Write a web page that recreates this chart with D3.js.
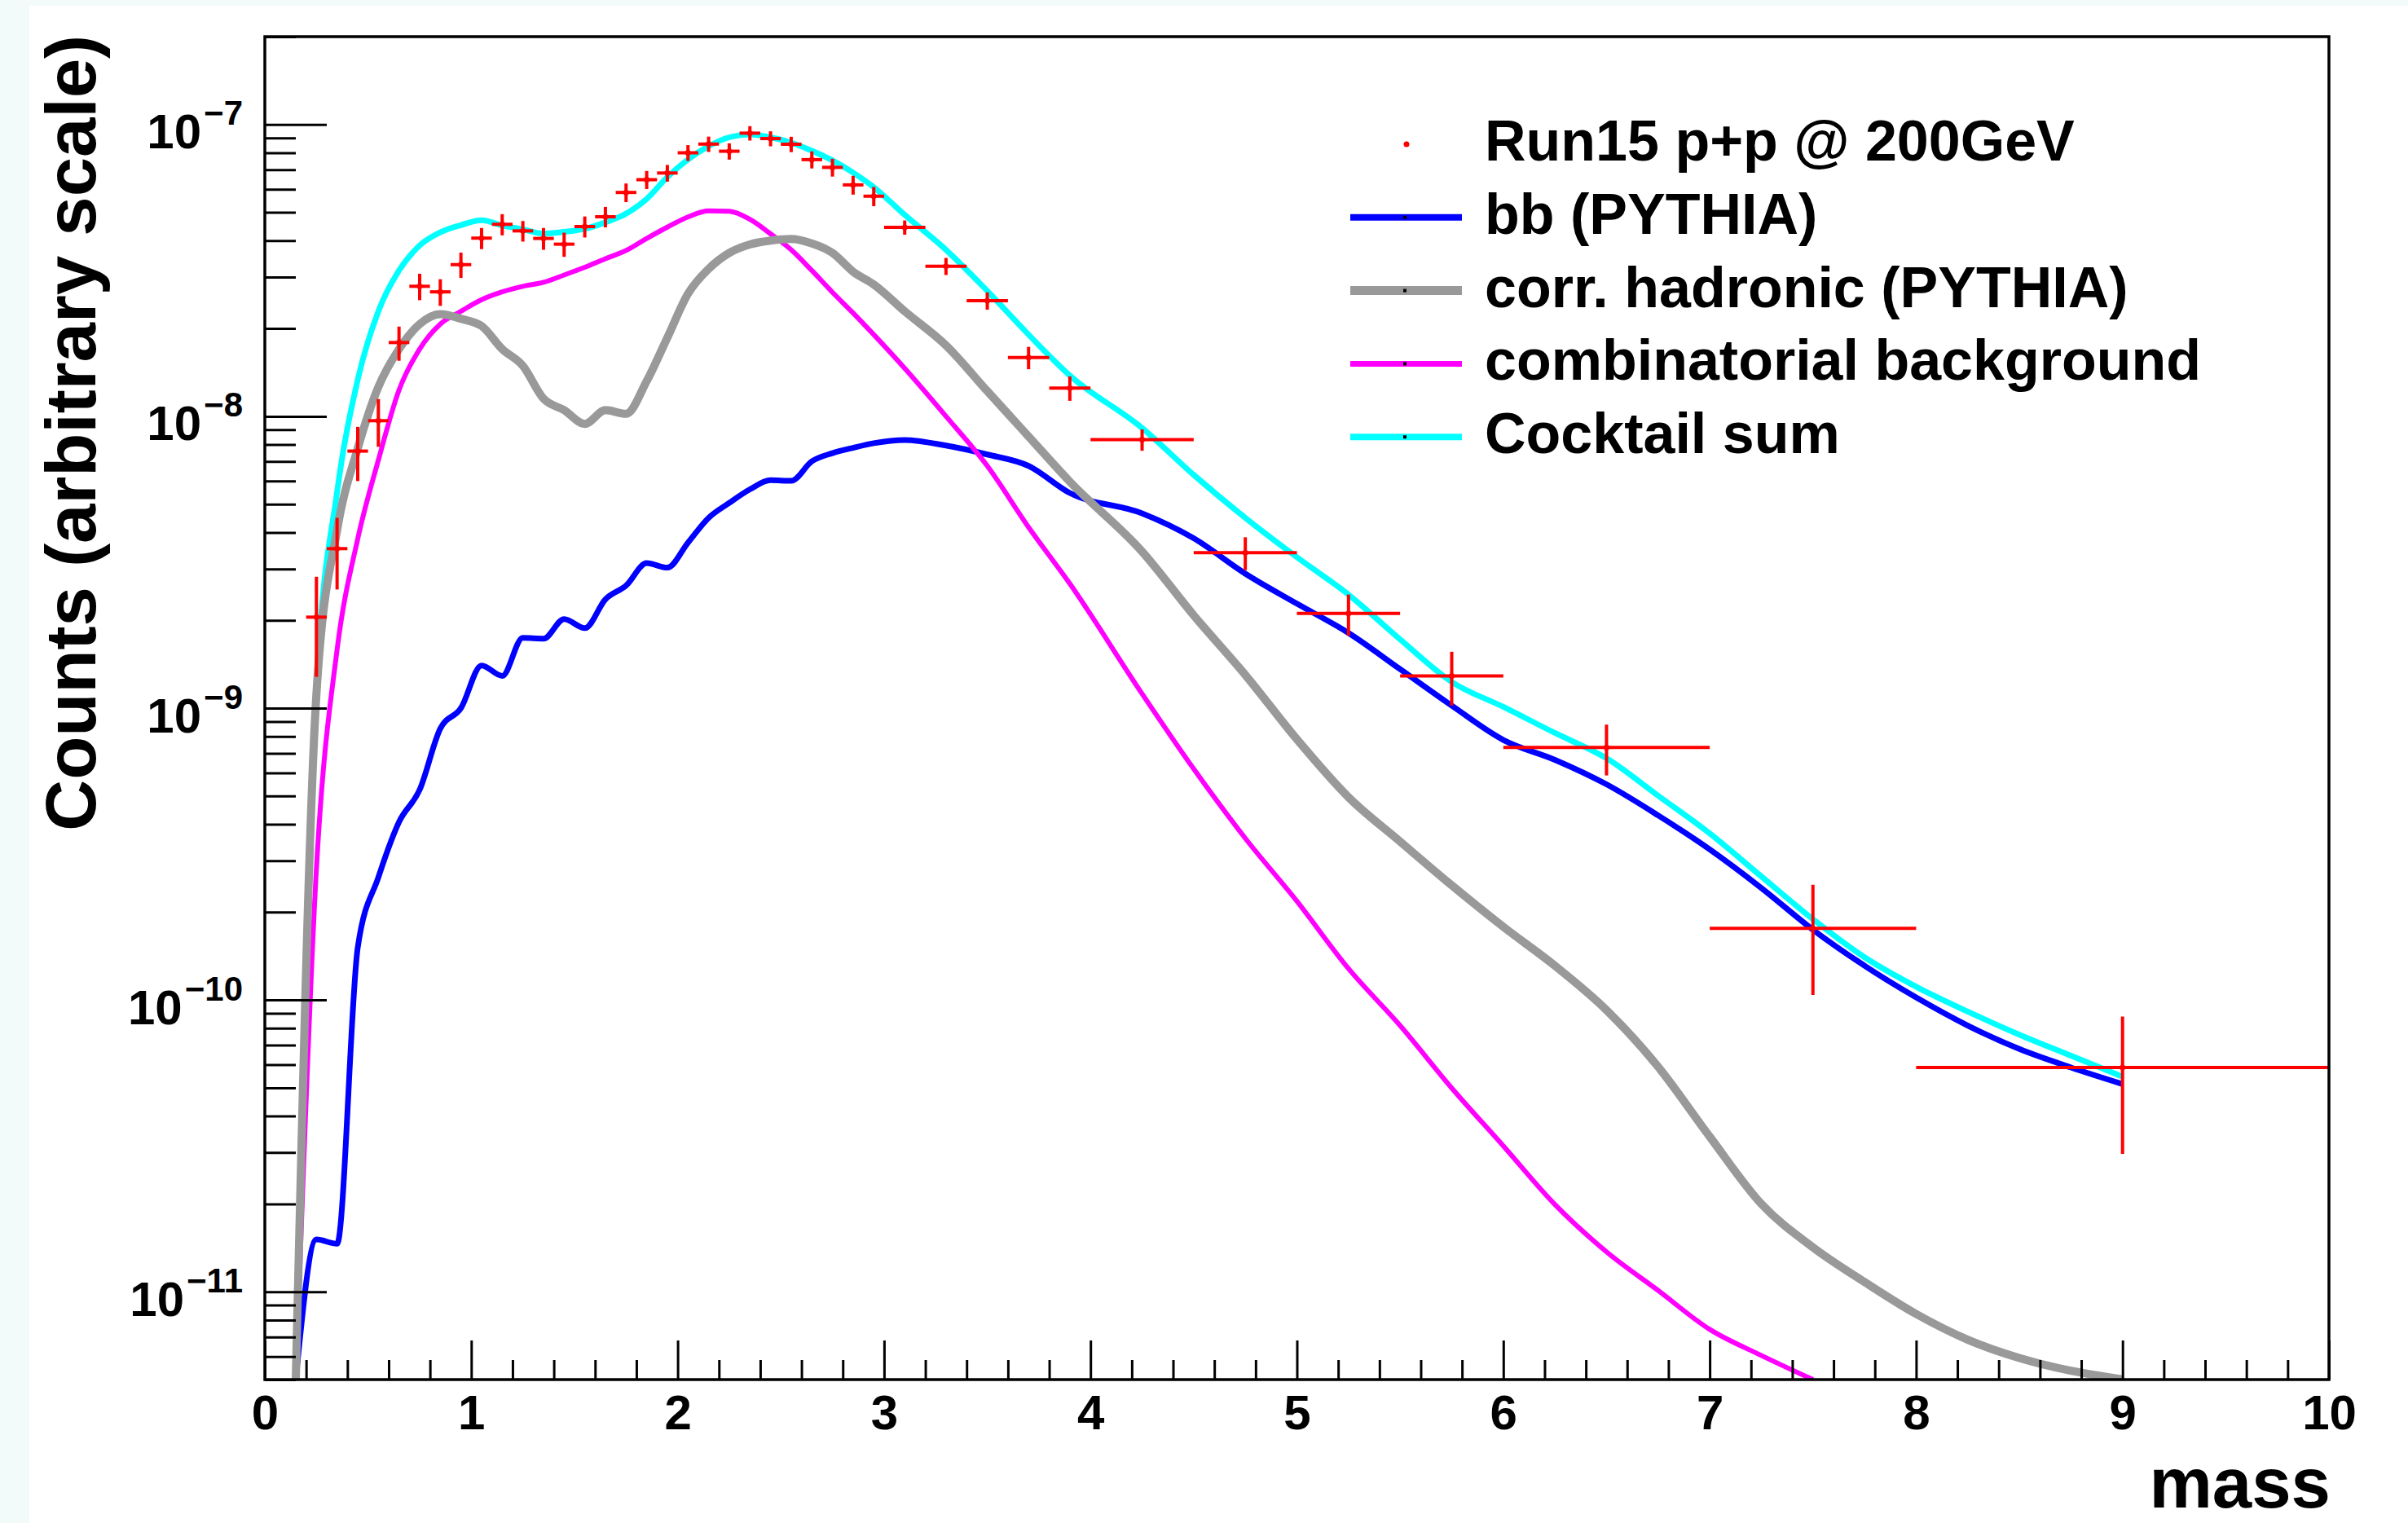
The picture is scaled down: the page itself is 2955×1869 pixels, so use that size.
<!DOCTYPE html>
<html>
<head>
<meta charset="utf-8">
<script src="https://cdn.jsdelivr.net/npm/d3@7"></script>
<style>
html, body { margin: 0; padding: 0; background: #f3fafa; overflow: hidden; }
svg { display: block; }
</style>
</head>
<body>
<svg id="chart" width="2955" height="1869"></svg>
<script>
// ---------------- data ----------------
const dataMass = [0.25, 0.35, 0.45, 0.55, 0.65, 0.75, 0.85, 0.95, 1.05, 1.15, 1.25, 1.35, 1.45, 1.55,
  1.65, 1.75, 1.85, 1.95, 2.05, 2.15, 2.25, 2.35, 2.45, 2.55, 2.65, 2.75, 2.85, 2.95,
  3.1, 3.3, 3.5, 3.7, 3.9, 4.25, 4.75, 5.25, 5.75, 6.5, 7.5, 9.0];
const dataHalfWidth = [0.05, 0.05, 0.05, 0.05, 0.05, 0.05, 0.05, 0.05, 0.05, 0.05, 0.05, 0.05, 0.05, 0.05,
  0.05, 0.05, 0.05, 0.05, 0.05, 0.05, 0.05, 0.05, 0.05, 0.05, 0.05, 0.05, 0.05, 0.05,
  0.1, 0.1, 0.1, 0.1, 0.1, 0.25, 0.25, 0.25, 0.25, 0.5, 0.5, 1.0];
const dataCounts = [2.05e-9, 3.52e-9, 7.6e-9, 9.66e-9, 1.79e-8, 2.79e-8, 2.67e-8, 3.31e-8, 4.08e-8, 4.55e-8,
  4.32e-8, 4.07e-8, 3.89e-8, 4.47e-8, 4.83e-8, 5.85e-8, 6.47e-8, 6.82e-8, 8.0e-8, 8.57e-8,
  8.1e-8, 9.34e-8, 8.95e-8, 8.56e-8, 7.58e-8, 7.13e-8, 6.21e-8, 5.68e-8,
  4.44e-8, 3.27e-8, 2.49e-8, 1.59e-8, 1.25e-8, 8.32e-9, 3.41e-9, 2.11e-9, 1.29e-9, 7.33e-10, 1.76e-10, 5.87e-11];
const dataError = [0.77e-9, 0.97e-9, 1.6e-9, 1.8e-9, 2.4e-9, 2.9e-9, 2.8e-9, 3.3e-9, 3.4e-9, 3.8e-9,
  3.5e-9, 3.5e-9, 3.7e-9, 3.7e-9, 3.9e-9, 4.3e-9, 4.6e-9, 4.5e-9, 5.0e-9, 5.2e-9,
  5.2e-9, 5.3e-9, 5.3e-9, 5.2e-9, 5.1e-9, 5.0e-9, 4.6e-9, 4.3e-9,
  2.5e-9, 2.2e-9, 1.7e-9, 1.4e-9, 1.2e-9, 0.7e-9, 0.44e-9, 0.34e-9, 0.27e-9, 1.45e-10, 0.72e-10, 2.9e-11];

const curveMass = [0.15, 0.25, 0.35, 0.45, 0.55, 0.65, 0.75, 0.85, 0.95, 1.05, 1.15, 1.25, 1.35, 1.45, 1.55,
  1.65, 1.75, 1.85, 1.95, 2.05, 2.15, 2.25, 2.35, 2.45, 2.55, 2.65, 2.75, 2.85, 2.95,
  3.1, 3.3, 3.5, 3.7, 3.9, 4.25, 4.5, 4.75, 5.0, 5.25, 5.5, 5.75, 6.0, 6.25, 6.5, 6.75,
  7.0, 7.25, 7.5, 7.75, 8.0, 8.25, 8.5, 8.75, 9.0];
const bbPythia = [5.0e-12, 1.51e-11, 1.46e-11, 1.51e-10, 2.63e-10, 4.07e-10, 5.25e-10, 8.51e-10, 1.0e-9, 1.40e-9,
  1.29e-9, 1.74e-9, 1.73e-9, 2.02e-9, 1.88e-9, 2.36e-9, 2.63e-9, 3.14e-9, 3.03e-9, 3.69e-9,
  4.49e-9, 5.05e-9, 5.62e-9, 6.04e-9, 6.01e-9, 7.01e-9, 7.48e-9, 7.80e-9, 8.09e-9,
  8.30e-9, 7.94e-9, 7.40e-9, 6.76e-9, 5.46e-9,
  4.65e-9, 3.82e-9, 2.89e-9, 2.28e-9, 1.81e-9, 1.36e-9, 1.02e-9, 7.78e-10, 6.65e-10, 5.48e-10,
  4.29e-10, 3.28e-10, 2.42e-10, 1.74e-10, 1.31e-10, 1.02e-10, 8.17e-11, 6.79e-11, 5.87e-11, 5.15e-11];
const corrHadronic = [5.0e-12, 1.12e-9, 4.07e-9, 7.76e-9, 1.26e-8, 1.70e-8, 2.07e-8, 2.24e-8, 2.16e-8, 2.04e-8,
  1.70e-8, 1.49e-8, 1.15e-8, 1.05e-8, 9.42e-9, 1.05e-8, 1.02e-8, 1.32e-8, 1.86e-8, 2.63e-8,
  3.20e-8, 3.63e-8, 3.88e-8, 4.00e-8, 4.05e-8, 3.91e-8, 3.63e-8, 3.13e-8, 2.83e-8,
  2.29e-8, 1.75e-8, 1.22e-8, 8.53e-9, 5.97e-9,
  3.44e-9, 2.08e-9, 1.30e-9, 7.82e-10, 4.95e-10, 3.49e-10, 2.47e-10, 1.78e-10, 1.31e-10, 9.23e-11,
  5.9e-11, 3.4e-11, 2.0e-11, 1.42e-11, 1.08e-11, 8.39e-12, 6.85e-12, 5.93e-12, 5.36e-12, 5.01e-12];
const combBackground = [5.0e-12, 2.82e-10, 1.585e-9, 3.80e-9, 7.08e-9, 1.23e-8, 1.70e-8, 2.07e-8, 2.29e-8, 2.51e-8,
  2.67e-8, 2.79e-8, 2.88e-8, 3.05e-8, 3.24e-8, 3.47e-8, 3.70e-8, 4.07e-8, 4.45e-8, 4.82e-8,
  5.06e-8, 5.04e-8, 4.73e-8, 4.22e-8, 3.72e-8, 3.16e-8, 2.66e-8, 2.26e-8, 1.905e-8,
  1.46e-8, 1.0e-8, 6.76e-9, 4.17e-9, 2.67e-9,
  1.12e-9, 6.19e-10, 3.58e-10, 2.18e-10, 1.28e-10, 8.17e-11, 4.99e-11, 3.16e-11, 1.99e-11, 1.37e-11,
  1.01e-11, 7.43e-12, 6.05e-12, 5.0e-12, null, null, null, null, null, null];
const cocktailSum = [5.0e-12, 1.175e-9, 5.50e-9, 1.334e-8, 2.29e-8, 3.16e-8, 3.85e-8, 4.27e-8, 4.52e-8, 4.70e-8,
  4.51e-8, 4.37e-8, 4.23e-8, 4.29e-8, 4.39e-8, 4.62e-8, 4.95e-8, 5.56e-8, 6.61e-8, 7.59e-8,
  8.43e-8, 9.04e-8, 9.25e-8, 9.04e-8, 8.67e-8, 8.13e-8, 7.53e-8, 6.84e-8, 6.10e-8,
  4.90e-8, 3.72e-8, 2.69e-8, 1.905e-8, 1.38e-8,
  9.12e-9, 6.30e-9, 4.49e-9, 3.29e-9, 2.45e-9, 1.72e-9, 1.23e-9, 1.01e-9, 8.22e-10, 6.73e-10,
  5.01e-10, 3.72e-10, 2.65e-10, 1.89e-10, 1.40e-10, 1.11e-10, 9.12e-11, 7.60e-11, 6.44e-11, 5.46e-11];

const xTickValues = [0, 1, 2, 3, 4, 5, 6, 7, 8, 9, 10];
const yTickExponents = [-7, -8, -9, -10, -11];
const xDomain = [0, 10];
const yDomain = [5e-12, 2e-7];
const legendLabels = ["Run15 p+p @ 200GeV", "bb (PYTHIA)", "corr. hadronic (PYTHIA)", "combinatorial background", "Cocktail sum"];
const xTitle = "mass";
const yTitle = "Counts (arbitrary scale)";

// ---------------- layout & styles ----------------
const W = 2955, H = 1869;
const plot = { left: 325, right: 2858, top: 45, bottom: 1693 };
const FONT = '"Liberation Sans", Arial, Helvetica, sans-serif';
const style = {
  data: "#ff0000",
  bb: { color: "#0000ff", width: 7 },
  had: { color: "#999999", width: 10 },
  comb: { color: "#ff00ff", width: 6 },
  sum: { color: "#00ffff", width: 7 }
};

const svg = d3.select("#chart");
svg.append("rect").attr("width", W).attr("height", H).attr("fill", "#f3fafa");
svg.append("rect").attr("x", 36).attr("y", 7).attr("width", W - 36).attr("height", H - 7).attr("fill", "#ffffff");

const x = d3.scaleLinear().domain(xDomain).range([plot.left, plot.right]);
const y = d3.scaleLog().domain(yDomain).range([plot.bottom, plot.top]);

svg.append("defs").append("clipPath").attr("id", "plotClip").append("rect")
  .attr("x", plot.left).attr("y", plot.top)
  .attr("width", plot.right - plot.left).attr("height", plot.bottom - plot.top);

// ---------------- curves ----------------
const curves = [
  { values: bbPythia, st: style.bb },
  { values: combBackground, st: style.comb },
  { values: cocktailSum, st: style.sum },
  { values: corrHadronic, st: style.had }
];
const line = d3.line()
  .defined(d => d[1] != null)
  .x(d => x(d[0])).y(d => y(d[1]))
  .curve(d3.curveMonotoneX);
const gCurves = svg.append("g").attr("clip-path", "url(#plotClip)");
gCurves.selectAll("path").data(curves).join("path")
  .attr("d", c => line(curveMass.map((m, i) => [m, c.values[i]])))
  .attr("fill", "none")
  .attr("stroke", c => c.st.color)
  .attr("stroke-width", c => c.st.width)
  .attr("stroke-linejoin", "round");

// ---------------- data points ----------------
const pts = dataMass.map((m, i) => ({ m, v: dataCounts[i], e: dataError[i], hw: dataHalfWidth[i] }));
const gData = svg.append("g").attr("clip-path", "url(#plotClip)");
gData.selectAll("line.h").data(pts).join("line").attr("class", "h")
  .attr("x1", d => x(d.m - d.hw)).attr("x2", d => x(d.m + d.hw))
  .attr("y1", d => y(d.v)).attr("y2", d => y(d.v))
  .attr("stroke", style.data).attr("stroke-width", 4);
gData.selectAll("line.v").data(pts).join("line").attr("class", "v")
  .attr("x1", d => x(d.m)).attr("x2", d => x(d.m))
  .attr("y1", d => y(d.v + d.e)).attr("y2", d => y(Math.max(d.v - d.e, 1e-13)))
  .attr("stroke", style.data).attr("stroke-width", 4);
gData.selectAll("circle").data(pts).join("circle")
  .attr("cx", d => x(d.m)).attr("cy", d => y(d.v)).attr("r", 3.5)
  .attr("fill", style.data);

// ---------------- axes ----------------
const yMajor = yTickExponents.map(e => Math.pow(10, e));
const yMinor = [];
for (let e = -12; e <= -7; e++) {
  for (let k = 2; k <= 9; k++) {
    const v = k * Math.pow(10, e);
    if (v >= yDomain[0] * 0.999 && v <= yDomain[1] * 1.001) yMinor.push(v);
  }
}
const xMinor = d3.range(0, 50).map(i => i * 0.2).filter(v => Math.abs(v - Math.round(v)) > 1e-6);

function styleAxis(g) {
  g.select(".domain").remove();
  g.selectAll(".tick line").attr("stroke", "#000").attr("stroke-width", 3);
  g.attr("font-family", FONT).attr("font-weight", "bold");
}

svg.append("g").attr("transform", `translate(${plot.left},0)`)
  .call(d3.axisLeft(y).tickValues(yMinor).tickSizeInner(-38).tickSizeOuter(0).tickFormat(""))
  .call(styleAxis);

const yAxisG = svg.append("g").attr("transform", `translate(${plot.left},0)`)
  .call(d3.axisLeft(y).tickValues(yMajor).tickSizeInner(-76).tickSizeOuter(0).tickPadding(27).tickFormat(""))
  .call(styleAxis);
yAxisG.selectAll(".tick text")
  .attr("font-size", 60).attr("fill", "#000").attr("dy", 29)
  .each(function (d) {
    const t = d3.select(this);
    const e = Math.round(Math.log10(d));
    t.append("tspan").text("10");
    t.append("tspan").attr("dx", 3).attr("dy", -29).attr("font-size", 42).text("\u2212" + Math.abs(e));
  });

svg.append("g").attr("transform", `translate(0,${plot.bottom})`)
  .call(d3.axisBottom(x).tickValues(xMinor).tickSizeInner(-24).tickSizeOuter(0).tickFormat(""))
  .call(styleAxis);
const xAxisG = svg.append("g").attr("transform", `translate(0,${plot.bottom})`)
  .call(d3.axisBottom(x).tickValues(xTickValues).tickSizeInner(-48).tickSizeOuter(0).tickPadding(18).tickFormat(d3.format("d")))
  .call(styleAxis);
xAxisG.selectAll(".tick text").attr("font-size", 60).attr("fill", "#000");

// frame
svg.append("rect")
  .attr("x", plot.left).attr("y", plot.top)
  .attr("width", plot.right - plot.left).attr("height", plot.bottom - plot.top)
  .attr("fill", "none").attr("stroke", "#000").attr("stroke-width", 3.5);

// ---------------- titles ----------------
svg.append("text")
  .attr("x", 2860).attr("y", 1850)
  .attr("text-anchor", "end")
  .attr("font-family", FONT).attr("font-weight", "bold").attr("font-size", 87)
  .text(xTitle);
svg.append("text")
  .attr("transform", "translate(117,43) rotate(-90)")
  .attr("text-anchor", "end")
  .attr("font-family", FONT).attr("font-weight", "bold").attr("font-size", 87)
  .text(yTitle);

// ---------------- legend ----------------
const legendStyles = [null, style.bb, style.had, style.comb, style.sum];
const legendG = svg.append("g");
const rowY0 = 177, rowStep = 89.8;
legendLabels.forEach((lab, i) => {
  const cy = rowY0 + i * rowStep;
  const st = legendStyles[i];
  if (st === null) {
    legendG.append("circle").attr("cx", 1726).attr("cy", cy).attr("r", 3.5).attr("fill", style.data);
  } else {
    legendG.append("line").attr("x1", 1657).attr("x2", 1794).attr("y1", cy).attr("y2", cy)
      .attr("stroke", st.color).attr("stroke-width", st.width + 1);
    legendG.append("rect").attr("x", 1722).attr("y", cy - 2).attr("width", 4).attr("height", 4).attr("fill", "#000");
  }
  legendG.append("text")
    .attr("x", 1822).attr("y", cy + 20)
    .attr("font-family", FONT).attr("font-weight", "bold").attr("font-size", 70)
    .attr("fill", "#000")
    .text(lab);
});
</script>
</body>
</html>
